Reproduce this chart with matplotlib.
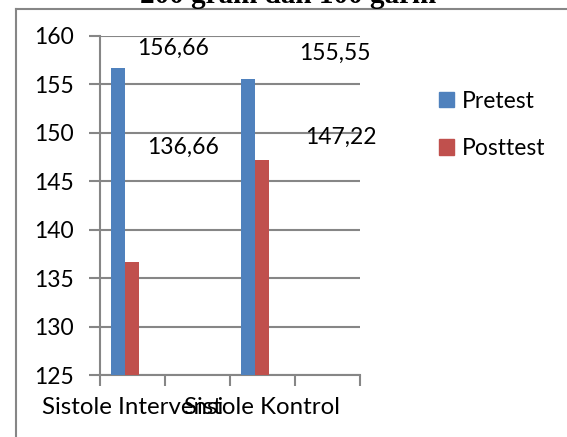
import matplotlib
matplotlib.use('Agg')
import matplotlib.pyplot as plt
from matplotlib.lines import Line2D
from matplotlib.patches import Patch

plt.rcParams['font.family'] = ['Lato', 'DejaVu Sans']

categories = ["Sistole Intervensi", "", "Sistole Kontrol", ""]
pretest = [156.66, None, 155.55, None]
posttest = [136.66, None, 147.22, None]
label_pre = ["156,66", "", "155,55", ""]
label_post = ["136,66", "", "147,22", ""]
yticks = [125, 130, 135, 140, 145, 150, 155, 160]

blue = '#4F81BD'
red = '#C0504D'
grey = '#868686'
fs = 16.5

W, H = 567, 437
fig = plt.figure(figsize=(W / 100, H / 100), dpi=100)
ax = fig.add_axes([100 / W, (H - 375) / H, 260 / W, 339 / H])

bw = 0.215
base = 125
for i in range(len(categories)):
    if pretest[i] is not None:
        ax.bar(i + 0.277, pretest[i] - base, bw, bottom=base, color=blue, zorder=3)
    if posttest[i] is not None:
        ax.bar(i + 0.492, posttest[i] - base, bw, bottom=base, color=red, zorder=3)

# data labels (moved by hand in the original)
offsets_pre = [(55, 20), None, (87, 26), None]
offsets_post = [(51, 115), None, (79, 22), None]
for i in range(len(categories)):
    if pretest[i] is not None:
        ax.annotate(label_pre[i], (i + 0.277, pretest[i]), xytext=offsets_pre[i],
                    textcoords='offset pixels', ha='center', va='center', fontsize=fs)
    if posttest[i] is not None:
        ax.annotate(label_post[i], (i + 0.492, posttest[i]), xytext=offsets_post[i],
                    textcoords='offset pixels', ha='center', va='center', fontsize=fs)

ax.set_xlim(0, len(categories))
ax.set_ylim(yticks[0], yticks[-1])
ax.set_yticks(yticks)
ax.set_yticklabels([str(v) for v in yticks], fontsize=fs)
ax.yaxis.grid(True, color=grey, linewidth=1.5, zorder=0)
ax.set_xticks(range(len(categories) + 1))
ax.set_xticklabels([])
ax.set_xticks([i + 0.5 for i in range(len(categories))], minor=True)
ax.set_xticklabels(categories, minor=True, fontsize=17.3)
ax.tick_params(axis='x', which='minor', length=0, pad=16)
ax.tick_params(axis='x', which='major', length=8, width=1.5, color=grey)
ax.tick_params(axis='y', length=8, width=1.5, color=grey, pad=11)
for s in ['top', 'right']:
    ax.spines[s].set_visible(False)
for s in ['left', 'bottom']:
    ax.spines[s].set_color(grey)
    ax.spines[s].set_linewidth(1.5)

handles = [Patch(color=blue, label='Pretest'), Patch(color=red, label='Posttest')]
fig.legend(handles=handles, loc='upper left', bbox_to_anchor=(418 / W, 1 - 70 / H),
           frameon=False, fontsize=fs, labelspacing=1.15, handlelength=0.65,
           handleheight=0.65, handletextpad=0.35)

# outer chart frame
fig.add_artist(Line2D([16 / W, 16 / W], [0, 1 - 8.7 / H], color=grey, lw=1.5))
fig.add_artist(Line2D([16 / W, 1], [1 - 8.7 / H, 1 - 8.7 / H], color=grey, lw=1.5))

fig.text(288 / W, 1 - 3 / H, "200 gram dan 100 garm", ha='center', va='baseline',
         fontsize=21, fontweight='bold', family='Liberation Serif')

fig.savefig('out.png', dpi=100)
